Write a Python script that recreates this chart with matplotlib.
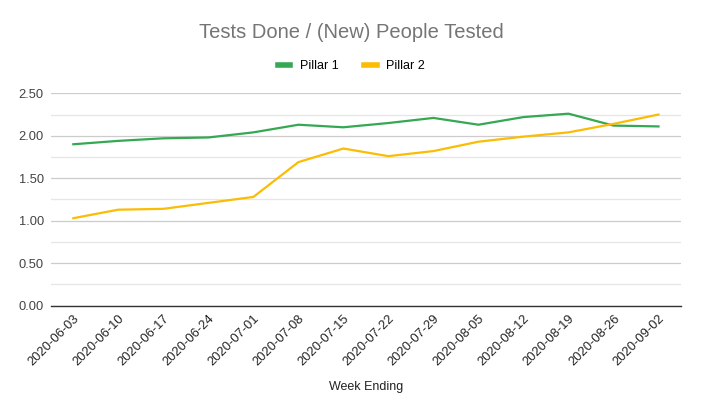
import matplotlib
matplotlib.use("Agg")
import matplotlib.pyplot as plt
import matplotlib.ticker as mticker

weeks = ["2020-06-03", "2020-06-10", "2020-06-17", "2020-06-24", "2020-07-01",
         "2020-07-08", "2020-07-15", "2020-07-22", "2020-07-29", "2020-08-05",
         "2020-08-12", "2020-08-19", "2020-08-26", "2020-09-02"]
pillar1 = [1.90, 1.94, 1.97, 1.98, 2.04, 2.13, 2.10, 2.15, 2.21, 2.13, 2.22, 2.26, 2.12, 2.11]
pillar2 = [1.03, 1.13, 1.14, 1.21, 1.28, 1.69, 1.85, 1.76, 1.82, 1.93, 1.99, 2.04, 2.14, 2.25]

plt.rcParams["font.family"] = ["Liberation Sans", "DejaVu Sans"]

fig = plt.figure(figsize=(7.03, 4.15), dpi=100)
ax = fig.add_axes([0.0723, 0.2634, 0.8964, 0.5118])

x = list(range(len(weeks)))
ax.plot(x, pillar1, color="#34a853", linewidth=1.6, label="Pillar 1")
ax.plot(x, pillar2, color="#fbbc04", linewidth=1.6, label="Pillar 2")

ax.set_xlim(-0.5, len(weeks) - 0.5)
ax.set_ylim(0, 2.5)
ax.yaxis.set_major_locator(mticker.MultipleLocator(0.5))
ax.yaxis.set_minor_locator(mticker.MultipleLocator(0.25))
ax.yaxis.set_major_formatter(mticker.FormatStrFormatter("%.2f"))
ax.grid(True, which="major", axis="y", color="#cccccc", linewidth=0.9)
ax.grid(True, which="minor", axis="y", color="#e6e6e6", linewidth=0.9)
ax.set_axisbelow(True)

ax.set_xticks(x)
ax.set_xticklabels(weeks, rotation=45, ha="right", va="top", rotation_mode="anchor")
ax.tick_params(axis="x", length=0, pad=5, labelsize=9.3, colors="#222222")
ax.tick_params(axis="y", which="both", length=0, pad=5, labelsize=9.3, colors="#444444")
ax.tick_params(axis="y", which="minor", labelleft=False)

for side in ["top", "right", "left"]:
    ax.spines[side].set_visible(False)
ax.spines["bottom"].set_color("#333333")
ax.spines["bottom"].set_linewidth(1.0)

ax.set_xlabel("Week Ending", fontsize=9, color="#222222", labelpad=9)

fig.text(0.5, 0.922, "Tests Done / (New) People Tested", ha="center", va="center",
         fontsize=14.5, color="#757575")
fig.legend(loc="center", bbox_to_anchor=(0.5, 0.84), ncol=2, frameon=False,
           fontsize=9, handlelength=1.0, handletextpad=0.8, columnspacing=2.0)
leg = fig.legends[0]
for line in leg.get_lines():
    line.set_linewidth(4)

fig.savefig("out.png", dpi=100)
